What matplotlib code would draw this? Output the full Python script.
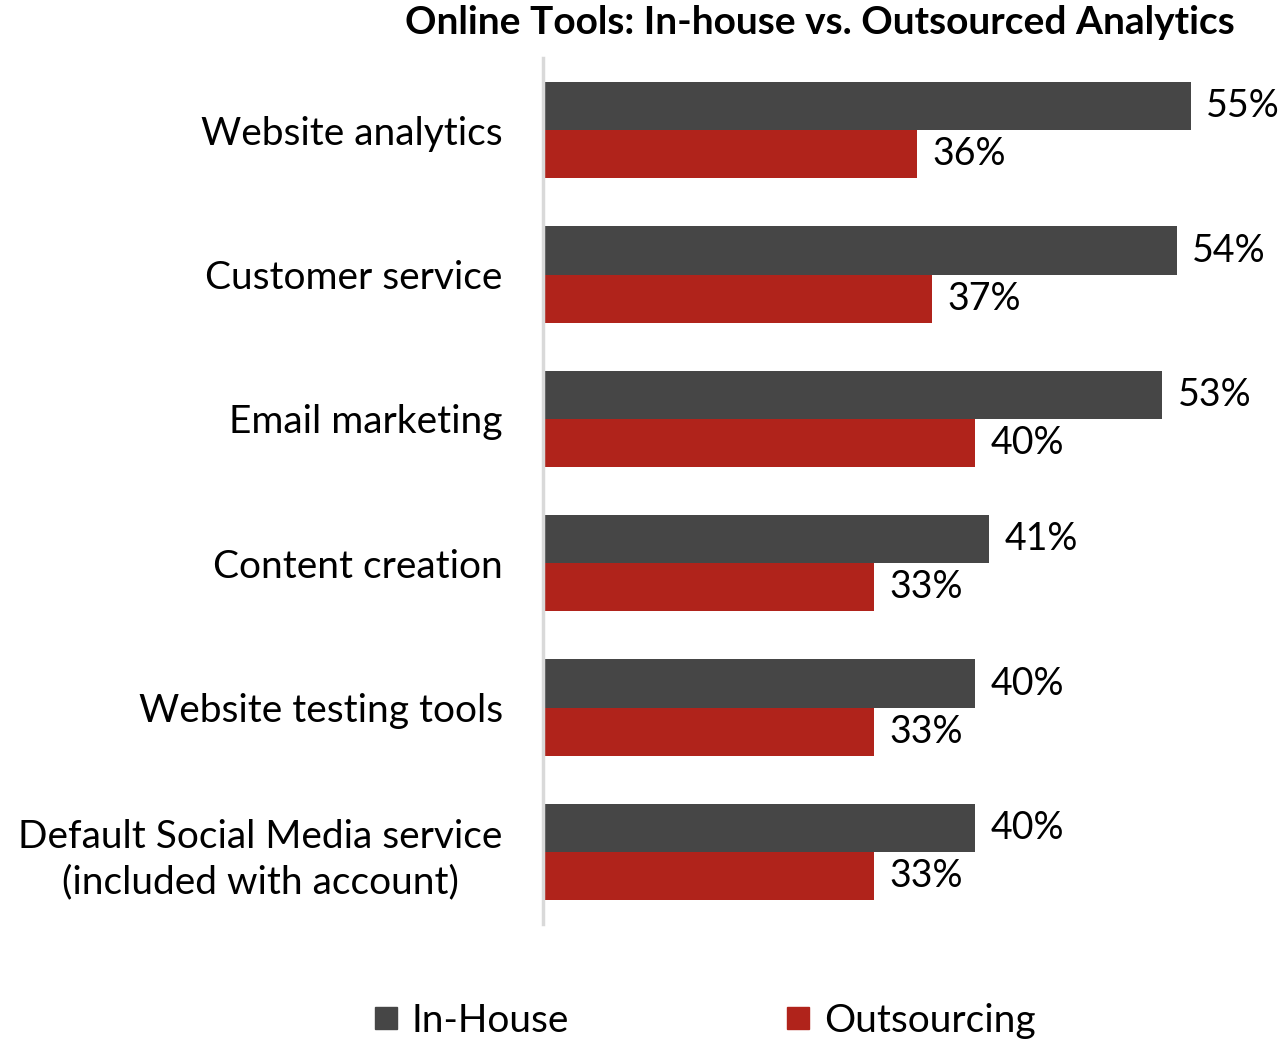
import numpy as np
from matplotlib import pyplot as plt
from matplotlib.lines import Line2D

categories = ['Website analytics', 'Customer service', 'Email marketing', 'Content creation',
              'Website testing tools', 'Default Social Media service\n(included with account)']
in_house = [55, 54, 53, 41, 40, 40]
outsourcing = [36, 37, 40, 33, 33, 33]
series_names = ['In-House', 'Outsourcing']
colors = ['#464646', '#B0231B']

plt.rcParams['font.family'] = ['Lato', 'DejaVu Sans']

fig = plt.figure(figsize=(12.86, 10.44), dpi=100)
ax = fig.add_axes([0.4222, 0.1149, 0.560, 0.8295])

Y = np.arange(len(categories))
h = 0.333
b1 = ax.barh(Y - h / 2, in_house, height=h, color=colors[0])
b2 = ax.barh(Y + h / 2, outsourcing, height=h, color=colors[1])
for bars, vals in ((b1, in_house), (b2, outsourcing)):
    ax.bar_label(bars, labels=[f'{v}%' for v in vals], padding=11, fontsize=27, color='k')

ax.set_xlim(10, 60)
ax.set_ylim(len(categories) - 0.5, -0.5)
ax.set_yticks(Y, categories, fontsize=28)
ax.tick_params(axis='y', length=0, pad=29)
ax.set_xticks([])
for s in ['top', 'right', 'bottom']:
    ax.spines[s].set_visible(False)
ax.spines['left'].set_color('#D9D9D9')
ax.spines['left'].set_linewidth(2.5)
for lbl in ax.get_yticklabels():
    lbl.set_multialignment('center')
    lbl.set_linespacing(1.3)

fig.text(0.6376, 0.978, 'Online Tools: In-house vs. Outsourced Analytics', ha='center', va='center',
         fontsize=28, fontweight='bold')

handles = [Line2D([0], [0], marker='s', linestyle='none', markersize=16, markerfacecolor=c,
                  markeredgecolor=c) for c in colors]
fig.legend(handles, series_names, loc='center', bbox_to_anchor=(0.548, 0.022), ncol=2, frameon=False,
           fontsize=28, handlelength=0.6, handletextpad=0.36, columnspacing=5.6)

fig.savefig('out.png', dpi=100)
